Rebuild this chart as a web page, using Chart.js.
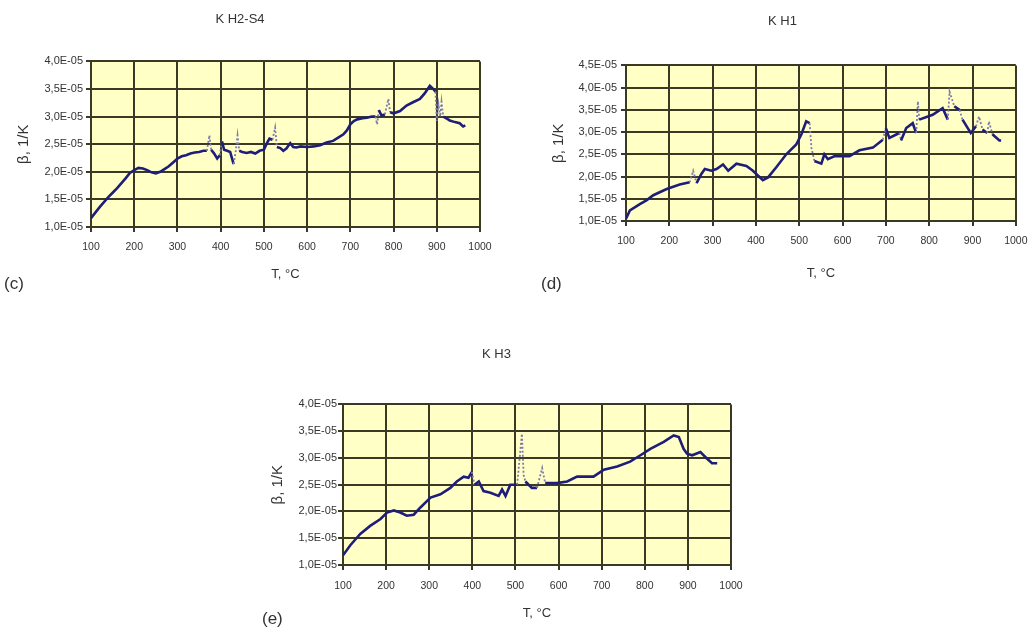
<!DOCTYPE html>
<html><head><meta charset="utf-8">
<script src="https://cdn.jsdelivr.net/npm/chart.js@4/dist/chart.umd.min.js"></script>
<style>
html,body{margin:0;padding:0;background:#fff;width:1036px;height:632px;overflow:hidden;position:relative;font-family:"Liberation Sans",Arial,sans-serif}
canvas{position:absolute}
.lab{position:absolute;font-size:17px;color:#333;line-height:20px}
</style></head><body>
<canvas id="cC" width="514" height="300" style="left:0px;top:0px"></canvas>
<canvas id="cD" width="488" height="300" style="left:548px;top:0px"></canvas>
<canvas id="cE" width="500" height="322" style="left:262px;top:310px"></canvas>
<div class="lab" style="left:4px;top:274px">(c)</div>
<div class="lab" style="left:541px;top:274px">(d)</div>
<div class="lab" style="left:262px;top:609px">(e)</div>
<script>
// ---- data (β in units of 1E-05 1/K) ----
const xTickLabels = ['100','200','300','400','500','600','700','800','900','1000'];
const yTickLabels_C = ['1,0E-05','1,5E-05','2,0E-05','2,5E-05','3,0E-05','3,5E-05','4,0E-05'];
const yTickLabels_D = ['1,0E-05','1,5E-05','2,0E-05','2,5E-05','3,0E-05','3,5E-05','4,0E-05','4,5E-05'];
const yTickLabels_E = ['1,0E-05','1,5E-05','2,0E-05','2,5E-05','3,0E-05','3,5E-05','4,0E-05'];

const titleC = 'K H2-S4';
const titleD = 'K H1';
const titleE = 'K H3';

const tempC = [100,110,120,130,140,150,160,170,180,190,200,210,220,230,240,250,260,270,280,290,300,310,320,330,340,350,360,368,374,378,385,392,398,403,408,415,422,430,435,439,443,450,460,470,480,490,500,507,513,520,526,530,538,545,552,561,568,575,585,600,615,630,645,660,672,684,692,700,708,716,728,738,750,758,762,766,772,780,788,792,800,815,830,845,861,872,884,892,897,900,904,908,911,915,922,930,942,953,961,966];
const betaC = [1.16,1.26,1.36,1.45,1.54,1.62,1.70,1.79,1.88,1.98,2.03,2.07,2.06,2.03,1.99,1.97,2.00,2.05,2.10,2.17,2.24,2.28,2.30,2.33,2.35,2.36,2.38,2.38,2.66,2.40,2.33,2.24,2.30,2.55,2.40,2.38,2.36,2.14,2.38,2.66,2.38,2.36,2.34,2.36,2.33,2.38,2.40,2.52,2.60,2.58,2.80,2.45,2.43,2.38,2.42,2.52,2.45,2.44,2.46,2.45,2.46,2.48,2.53,2.56,2.62,2.68,2.75,2.86,2.92,2.95,2.97,2.98,3.00,3.00,2.86,3.12,3.02,3.04,3.32,3.08,3.06,3.10,3.20,3.26,3.32,3.42,3.56,3.50,3.45,2.92,3.22,3.00,3.27,3.00,2.97,2.93,2.90,2.88,2.82,2.84];

const tempD = [100,109,132,148,163,194,224,247,255,263,274,282,297,309,324,336,355,378,393,416,428,447,470,493,505,516,524,528,535,551,558,566,582,616,639,670,693,700,708,731,735,747,762,770,774,777,808,831,843,847,858,870,877,889,896,908,915,923,934,938,946,962,966];
const betaD = [1.05,1.24,1.38,1.47,1.58,1.72,1.82,1.87,2.13,1.85,2.06,2.17,2.13,2.17,2.27,2.13,2.29,2.24,2.13,1.92,1.98,2.21,2.50,2.72,2.95,3.24,3.20,2.65,2.35,2.29,2.50,2.39,2.46,2.46,2.59,2.65,2.83,3.09,2.87,2.98,2.81,3.09,3.20,2.98,3.69,3.28,3.39,3.54,3.28,3.91,3.58,3.50,3.28,3.09,2.98,3.13,3.35,3.06,2.98,3.24,2.95,2.81,2.81];

const tempE = [100,117,140,163,187,202,218,233,248,264,279,303,326,349,364,380,391,399,405,415,426,442,461,469,477,488,504,515,519,523,538,550,562,569,596,620,643,681,705,736,766,790,813,844,867,879,890,898,910,929,944,956,968];
const betaE = [1.18,1.37,1.58,1.73,1.86,1.98,2.02,1.98,1.92,1.94,2.07,2.26,2.32,2.44,2.56,2.65,2.63,2.74,2.50,2.56,2.38,2.35,2.29,2.41,2.29,2.50,2.50,3.45,2.68,2.56,2.44,2.44,2.81,2.53,2.53,2.56,2.65,2.65,2.78,2.84,2.93,3.05,3.17,3.30,3.42,3.39,3.17,3.08,3.05,3.11,2.99,2.90,2.90];

// ---- styling ----
const FONT = "'Liberation Sans', Arial, sans-serif";
Chart.defaults.font.family = FONT;
const GRID = '#3a3a24';
const LINE = '#1e1e7a';
const LIGHT = '#7c7cab';

const bgPlugin = {
  id: 'plotBg',
  beforeDraw(chart) {
    const {ctx, chartArea: a} = chart;
    ctx.save();
    ctx.fillStyle = '#FFFFC6';
    ctx.fillRect(a.left, a.top, a.right - a.left, a.bottom - a.top);
    ctx.restore();
  }
};

function steep(c) {
  const dx = c.p1.parsed.x - c.p0.parsed.x;
  const dy = Math.abs(c.p1.parsed.y - c.p0.parsed.y);
  return dx <= 0 || dy / dx > 0.03;
}

function makeChart(id, title, temps, betas, yLabels, yMax, g) {
  new Chart(document.getElementById(id), {
    type: 'line',
    data: {
      datasets: [{
        data: temps.map((t, i) => ({x: t, y: betas[i]})),
        borderColor: LINE,
        borderWidth: 2.6,
        pointRadius: 0,
        tension: 0,
        fill: false,
        segment: {
          borderColor: c => steep(c) ? LIGHT : undefined,
          borderDash: c => steep(c) ? [2, 2] : undefined,
          borderWidth: c => steep(c) ? 1.8 : undefined
        }
      }]
    },
    options: {
      responsive: false,
      animation: false,
      devicePixelRatio: 1,
      layout: {padding: {left: 0, top: 0, bottom: 0, right: g.padRight}},
      plugins: {
        legend: {display: false},
        tooltip: {enabled: false},
        title: {
          display: true, text: title, color: '#333',
          font: {size: 13, weight: 'normal', family: FONT, lineHeight: 1.2},
          padding: {top: g.titleTop, bottom: g.titleBottom}
        }
      },
      scales: {
        x: {
          type: 'linear', min: 100, max: 1000,
          afterFit: s => { s.height = g.xHeight; },
          ticks: {stepSize: 100, maxRotation: 0, autoSkip: false, color: '#333', font: {size: 10.5},
                  padding: g.xTickPad, callback: (v, i) => xTickLabels[i]},
          grid: {color: GRID, lineWidth: 2, tickLength: 5, drawTicks: true},
          border: {display: true, color: GRID, width: 2},
          title: {display: true, text: 'T, °C', color: '#333', font: {size: 13},
                  padding: {top: 0, bottom: g.xTitlePad}}
        },
        y: {
          type: 'linear', min: 1, max: yMax,
          afterFit: s => { s.width = g.yWidth; },
          ticks: {stepSize: 0.5, color: '#333', font: {size: 11}, padding: g.yTickPad,
                  callback: (v, i) => yLabels[i]},
          grid: {color: GRID, lineWidth: 2, tickLength: 5, drawTicks: true},
          border: {display: true, color: GRID, width: 2},
          title: {display: true, text: 'β, 1/K', color: '#333', font: {size: 15},
                  padding: {top: g.yTitlePad, bottom: 0}}
        }
      }
    },
    plugins: [bgPlugin]
  });
}

makeChart('cC', titleC, tempC, betaC, yTickLabels_C, 4.0,
  {padRight: 34, titleTop: 11.4, titleBottom: 34.4, xHeight: 73, yWidth: 91,
   xTickPad: 9, yTickPad: 3, xTitlePad: 17.4, yTitlePad: 14.8});
makeChart('cD', titleD, tempD, betaD, yTickLabels_D, 4.5,
  {padRight: 19, titleTop: 13.4, titleBottom: 36.4, xHeight: 79, yWidth: 78,
   xTickPad: 8.5, yTickPad: 4, xTitlePad: 18.4, yTitlePad: 1.5});
makeChart('cE', titleE, tempE, betaE, yTickLabels_E, 4.0,
  {padRight: 31, titleTop: 36.4, titleBottom: 42.4, xHeight: 67, yWidth: 81,
   xTickPad: 10, yTickPad: 1, xTitlePad: 10.4, yTitlePad: 6.8});
</script>
</body></html>
